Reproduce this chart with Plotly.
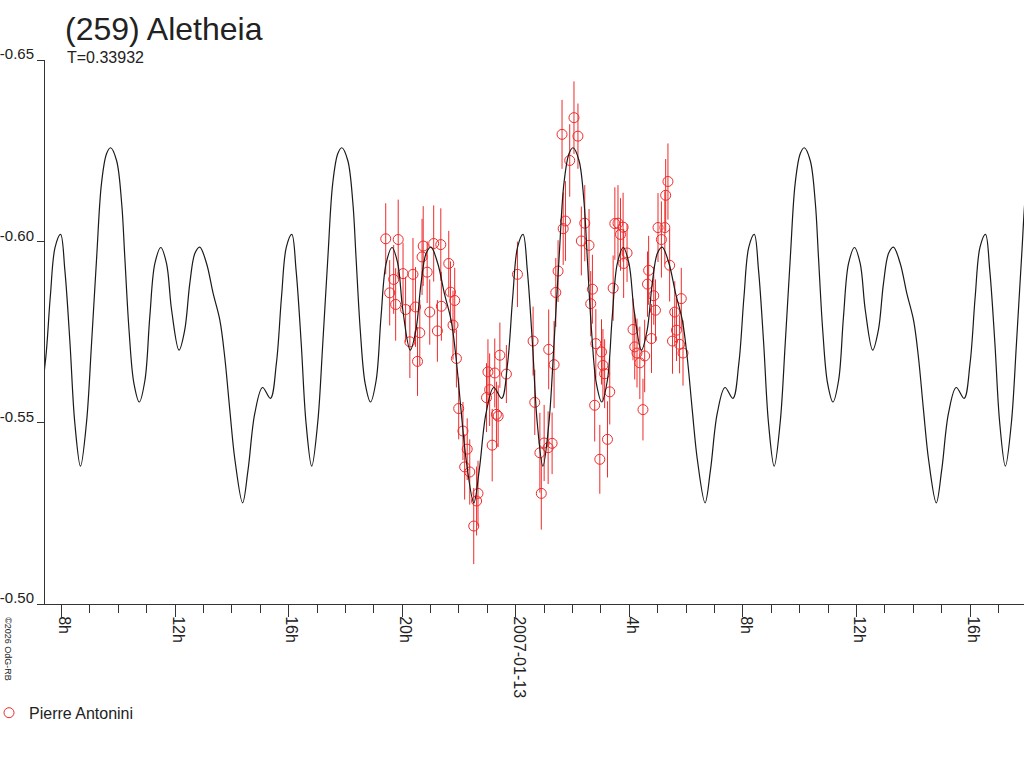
import plotly.graph_objects as go

# hours since 2007-01-12 00:00 UT
obs_hours = [19.42, 19.56, 19.70, 19.77, 19.86, 20.03, 20.12, 20.27, 20.38, 20.47,
             20.54, 20.62, 20.70, 20.74, 20.88, 20.97, 21.11, 21.24, 21.36, 21.38,
             21.64, 21.70, 21.79, 21.85, 21.91, 21.99, 22.14, 22.20, 22.29, 22.38,
             22.52, 22.62, 22.67, 22.97, 23.02, 23.08, 23.17, 23.26, 23.32, 23.38,
             23.44, 23.67, 24.06, 24.61, 24.67, 24.85, 24.90, 25.00, 25.14, 25.16,
             25.28, 25.35, 25.41, 25.49, 25.63, 25.67, 25.75, 25.90, 26.05, 26.19,
             26.31, 26.43, 26.58, 26.64, 26.70, 26.78, 26.82, 26.96, 27.02, 27.07,
             27.13, 27.23, 27.31, 27.43, 27.49, 27.60, 27.69, 27.78, 27.80, 27.92,
             28.13, 28.19, 28.27, 28.37, 28.48, 28.54, 28.64, 28.68, 28.78, 28.86,
             28.92, 29.01, 29.13, 29.25, 29.28, 29.36, 29.42, 29.52, 29.60, 29.66,
             29.77, 29.83, 29.89]
obs_mag = [-0.6007, -0.5858, -0.5895, -0.5826, -0.6005, -0.5911, -0.5812, -0.5723, -0.5909, -0.5819,
           -0.5669, -0.5748, -0.5957, -0.5987, -0.5915, -0.5805, -0.5994, -0.5753, -0.5991, -0.5821,
           -0.5939, -0.5860, -0.5769, -0.5837, -0.5677, -0.5539, -0.5477, -0.5378, -0.5427, -0.5364,
           -0.5215, -0.5284, -0.5305, -0.5569, -0.5640, -0.5591, -0.5438, -0.5637, -0.5523, -0.5518,
           -0.5686, -0.5634, -0.5909, -0.5725, -0.5556, -0.5417, -0.5305, -0.5444, -0.5431, -0.5702,
           -0.5443, -0.5660, -0.5859, -0.5918, -0.6295, -0.6035, -0.6056, -0.6223, -0.6341, -0.6290,
           -0.6001, -0.6050, -0.5989, -0.5828, -0.5868, -0.5548, -0.5718, -0.5399, -0.5695, -0.5658,
           -0.5635, -0.5454, -0.5585, -0.5871, -0.6049, -0.6050, -0.6019, -0.6039, -0.5939, -0.5968,
           -0.5757, -0.5709, -0.5692, -0.5665, -0.5536, -0.5684, -0.5882, -0.5920, -0.5732, -0.5850,
           -0.5810, -0.6038, -0.6005, -0.6038, -0.6127, -0.6165, -0.5934, -0.5725, -0.5805, -0.5755,
           -0.5716, -0.5842, -0.5692]
obs_err = [0.0098, 0.0090, 0.0095, 0.0100, 0.0110, 0.0085, 0.0090, 0.0100, 0.0100, 0.0110,
           0.0095, 0.0090, 0.0105, 0.0110, 0.0085, 0.0090, 0.0105, 0.0085, 0.0100, 0.0095,
           0.0090, 0.0085, 0.0095, 0.0090, 0.0080, 0.0085, 0.0080, 0.0090, 0.0085, 0.0090,
           0.0105, 0.0095, 0.0090, 0.0095, 0.0090, 0.0100, 0.0100, 0.0095, 0.0090, 0.0085,
           0.0090, 0.0080, 0.0090, 0.0095, 0.0090, 0.0110, 0.0100, 0.0105, 0.0100, 0.0110,
           0.0085, 0.0120, 0.0095, 0.0085, 0.0095, 0.0100, 0.0110, 0.0100, 0.0100, 0.0090,
           0.0095, 0.0105, 0.0100, 0.0090, 0.0095, 0.0100, 0.0095, 0.0095, 0.0090, 0.0100,
           0.0095, 0.0105, 0.0090, 0.0090, 0.0100, 0.0105, 0.0100, 0.0095, 0.0095, 0.0080,
           0.0085, 0.0090, 0.0095, 0.0100, 0.0085, 0.0100, 0.0090, 0.0095, 0.0095, 0.0080,
           0.0085, 0.0095, 0.0105, 0.0100, 0.0100, 0.0105, 0.0100, 0.0090, 0.0085, 0.0085,
           0.0080, 0.0085, 0.0090]

# one cycle of the model lightcurve (hours after the first maximum)
cycle_start = 7.97
cycle_offset = [0.00, 0.15, 0.33, 0.50, 0.70, 0.91, 1.09, 1.27, 1.44, 1.62, 1.76, 1.97, 2.15, 2.26,
                2.41, 2.58, 2.77, 2.97, 3.14, 3.32, 3.53, 3.73, 3.91, 4.17, 4.37, 4.55, 4.73, 4.90,
                5.14, 5.37, 5.61, 5.78, 5.96, 6.14, 6.41, 6.60, 6.84, 7.11, 7.39, 7.60, 7.78, 7.95]
cycle_mag = [-0.6019, -0.5920, -0.5719, -0.5499, -0.5380, -0.5499, -0.5719, -0.5957, -0.6160, -0.6242,
             -0.6258, -0.6223, -0.6105, -0.5957, -0.5755, -0.5609, -0.5557, -0.5617, -0.5791, -0.5939,
             -0.5983, -0.5939, -0.5810, -0.5700, -0.5755, -0.5884, -0.5967, -0.5984, -0.5939, -0.5857,
             -0.5782, -0.5681, -0.5534, -0.5397, -0.5279, -0.5369, -0.5526, -0.5597, -0.5567, -0.5664,
             -0.5847, -0.5984]
period_days = 0.33932

tick_hours = [8, 12, 16, 20, 24, 28, 32, 36, 40]
tick_text = ["8h", "12h", "16h", "20h", "2007-01-13", "4h", "8h", "12h", "16h"]
mag_ticks = [-0.65, -0.60, -0.55, -0.50]

x_min, x_max = 7.42, 41.9

# the model repeats with the period given in the header
period_h = period_days * 24
model_x, model_y = [], []
for k in range(-1, 6):
    for off, m in zip(cycle_offset, cycle_mag):
        t = cycle_start + k * period_h + off
        if x_min - 0.6 <= t <= x_max + 0.6:
            model_x.append(t)
            model_y.append(m)

red = "#ee2b2b"
font = "Liberation Sans, Arial, sans-serif"

fig = go.Figure()
fig.add_trace(go.Scatter(
    x=obs_hours, y=obs_mag, mode="markers", name="Pierre Antonini",
    marker=dict(symbol="circle-open", size=10, color=red, line=dict(width=1)),
    error_y=dict(type="data", array=obs_err, color=red, thickness=1, width=0),
))
fig.add_trace(go.Scatter(
    x=model_x, y=model_y, mode="lines", line=dict(color="#1a1a1a", width=1.2, shape="spline"),
    showlegend=False, hoverinfo="skip",
))

fig.update_layout(
    width=1024, height=768,
    margin=dict(l=45, r=0, t=60, b=164, autoexpand=False),
    paper_bgcolor="white", plot_bgcolor="white",
    font=dict(family=font, size=16, color="#222"),
    title=dict(text="(259) Aletheia", x=65 / 1024, xanchor="left", xref="container",
               y=1 - 29 / 768, yanchor="middle", yref="container", automargin=False,
               font=dict(size=32, color="#222")),
    showlegend=True,
    legend=dict(x=-0.0572, xanchor="left", y=-0.2, yanchor="middle",
                font=dict(size=16, color="#222"), bgcolor="rgba(0,0,0,0)"),
    annotations=[
        dict(text="T=0.33932", x=0.0204, y=1.004, xref="paper", yref="paper",
             xanchor="left", yanchor="middle", showarrow=False, font=dict(size=16, color="#222")),
        dict(text="©2026 OdG-RB", x=-0.038, y=-0.0202, xref="paper", yref="paper",
             xanchor="center", yanchor="top", textangle=90, showarrow=False,
             font=dict(size=9, color="#222")),
    ],
)

fig.update_xaxes(
    range=[x_min, x_max], showgrid=False, zeroline=False, automargin=False,
    showline=True, linecolor="#333", linewidth=1,
    tickmode="array", tickvals=tick_hours, ticktext=tick_text,
    ticks="outside", ticklen=12, tickcolor="#333", tickangle=90,
    ticklabelshift=3, ticklabelstandoff=-4,
    minor=dict(tickmode="linear", tick0=0, dtick=1, ticks="outside", ticklen=8, tickcolor="#333"),
)
fig.update_yaxes(
    range=[-0.50, -0.65], showgrid=False, zeroline=False, automargin=False,
    showline=True, linecolor="#333", linewidth=1,
    tickmode="array", tickvals=mag_ticks, ticktext=["%.2f" % v for v in mag_ticks],
    tickfont=dict(size=15),
    ticks="outside", ticklen=7, tickcolor="#333", ticklabelshift=6, ticklabelstandoff=0,
)

# drop the page's default body margin so the figure sits at the window's corner
fig.write_html("out.html", config={"displayModeBar": False},
               post_script="document.body.style.margin='0';document.body.style.overflow='hidden';")
